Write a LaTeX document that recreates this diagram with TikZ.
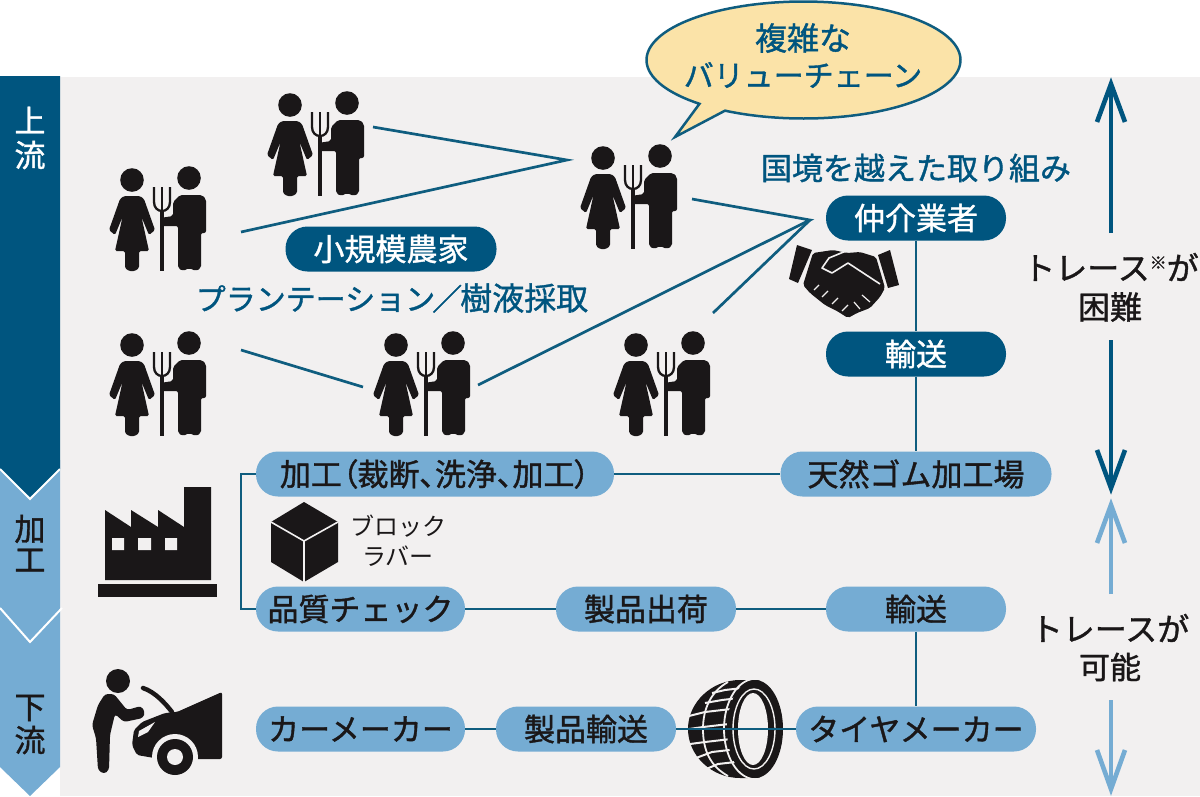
\documentclass[tikz,border=0pt]{standalone}
\usepackage{fontspec}
\setmainfont{Noto Sans CJK JP}
\newfontfamily\cjkp[RawFeature=+palt,FakeBold=1.2]{Noto Sans CJK JP}
\newfontfamily\cjkm[FakeBold=1.2]{Noto Sans CJK JP}
\definecolor{deep}{HTML}{00557F}
\definecolor{lite}{HTML}{75ACD3}
\definecolor{paper}{HTML}{F2F0F0}
\definecolor{ink}{HTML}{1A1718}
\definecolor{bubble}{HTML}{FBE3A8}
\definecolor{wire}{HTML}{0F5D7F}
\newcommand{\fs}[1]{\fontsize{#1}{#1}\selectfont}
\tikzset{
  pill/.style={rectangle,rounded corners=22pt,minimum height=45pt,inner sep=0pt,font=\fs{31}\cjkm},
  pilldark/.style={pill,fill=deep,text=white},
  pilllite/.style={pill,fill=lite,text=ink},
  lbl/.style={inner sep=0pt,font=\fs{31}\cjkm},
  wirel/.style={draw=wire,line width=2.7pt},
  upd/.style={draw=deep,line width=4.6pt},
  upl/.style={draw=lite,line width=4.6pt},
  farmer/.pic={
    \fill[ink] (0,0) circle (11.8pt) (57,-2) circle (11.8pt);
    \fill[ink,rounded corners=1.5pt] (-8,16) -- (8,16) -- (12,19) -- (23,50) -- (17,55) -- (9.5,37) -- (17,71) -- (7,71) -- (7,88) -- (3,91) -- (-3,91) -- (-7,88) -- (-7,71) -- (-17,71) -- (-9.5,37) -- (-17,55) -- (-23,50) -- (-12,19) -- cycle;
    \fill[ink,rounded corners=2pt] (48,15) -- (70,15) -- (74,19) -- (74,53) -- (69,53) -- (69,88) -- (64,91) -- (57,88) -- (51,91) -- (46,88) -- (46,46) -- (29,46) -- (28,38) -- (41,36) -- (41,22) -- cycle;
    \draw[ink,line width=2.3pt] (22,7) -- (22,22) .. controls (22,28) and (26,31) .. (30,31) .. controls (34,31) and (38,28) .. (38,22) -- (38,7);
    \draw[ink,line width=2.3pt] (30,7) -- (30,31);
    \draw[ink,line width=4.4pt] (30,31) -- (30,91);
  }
}
\begin{document}
\begin{tikzpicture}[x=1pt,y=-1pt]
\useasboundingbox (0,0) rectangle (1200,796);
\fill[white] (0,0) rectangle (1200,796);
\fill[paper] (60,77) rectangle (1200,796);
% side bands
\fill[lite] (0,460) -- (60,460) -- (60,767) -- (30,796) -- (0,767) -- cycle;
\fill[deep] (0,76) -- (60,76) -- (60,470) -- (30,497) -- (0,470) -- cycle;
\draw[white,line width=2pt] (0,469) -- (30,499) -- (60,469);
\draw[white,line width=2pt] (0,608) -- (30,642) -- (62,608);
\node[inner sep=0pt,text=white,font=\fs{31}\cjkm] (up1) at (30,120) {上};
\node[inner sep=0pt,text=white,font=\fs{31}\cjkm] (up2) at (30,155) {流};
\node[inner sep=0pt,text=ink,font=\fs{31}\cjkm] (ka1) at (30,529) {加};
\node[inner sep=0pt,text=ink,font=\fs{31}\cjkm] (ka2) at (30,560) {工};
\node[inner sep=0pt,text=ink,font=\fs{31}\cjkm] (do1) at (30,708) {下};
\node[inner sep=0pt,text=ink,font=\fs{31}\cjkm] (do2) at (30,740) {流};
% farmers
\pic at (132,180) {farmer};
\pic at (290,105) {farmer};
\pic at (603,158) {farmer};
\pic at (132,345) {farmer};
\pic at (396,345) {farmer};
\pic at (636,345) {farmer};
% connector hubs
\coordinate (f1) at (373,127);
\coordinate (f2) at (241,232);
\coordinate (f3) at (241,350);
\coordinate (f3e) at (363,387);
\coordinate (hub1) at (567,160);
\coordinate (f5) at (692,199);
\coordinate (f4) at (478,385);
\coordinate (f6) at (713,313);
\coordinate (hub2) at (810,220);
\draw[wirel] (f1) -- (hub1) -- (f2);
\draw[wirel] (f3) -- (f3e);
\draw[wirel] (f5) -- (hub2) -- (f4);
\draw[wirel] (hub2) -- (f6);
% bubble
\filldraw[draw=wire,fill=bubble,line width=2.5pt,line join=miter]
  plot[domain=120:-228.5,samples=140] ({803.5+157*cos(\x)},{60+58.5*sin(\x)}) -- (675,137) -- cycle;
\node[lbl,text=deep,font=\fs{32}\cjkm] (bub1) at (803,38) {複雑な};
\node[lbl,text=deep,font=\fs{30}\cjkm] (bub2) at (803,75) {バリューチェーン};
% handshake
\fill[ink] (797,245) -- (812,250) -- (798,283) -- (789,279) -- cycle;
\fill[ink] (890,250) -- (899,285) -- (888,288) -- (878,255) -- cycle;
\fill[ink,rounded corners=2pt] (813,253) -- (833,250) -- (847,253) -- (860,252) -- (876,257) -- (885,288) -- (880,297) -- (870,308) -- (857,313) -- (848,318) -- (837,311) -- (825,305) -- (810,293) -- (803,285) -- cycle;
\draw[paper,line width=1.6pt,line join=round] (880,284) -- (848,263) -- (832,273) -- (822,268) -- (829,258) -- (846,251);
\draw[paper,line width=1.2pt] (814,290) -- (819,285) (822,297) -- (828,291) (832,304) -- (838,298) (842,311) -- (848,305) (860,309) -- (854,302) (870,302) -- (862,295);
% factory
\fill[ink] (98,584) rectangle (217,597);
\fill[ink] (105,580) -- (105,510) -- (131,527) -- (131,510) -- (158,527) -- (158,510) -- (184,527) -- (184,487) -- (211,487) -- (211,580) -- cycle;
\fill[paper] (112,538) rectangle (124,550) (138,538) rectangle (151,550) (165,538) rectangle (177,550);
% cube
\fill[ink] (304,502) -- (338,522) -- (338,562) -- (304,582) -- (271,562) -- (271,522) -- cycle;
\draw[paper,line width=1.6pt] (271,522) -- (304,541) -- (338,522) (304,541) -- (304,582);
\node[inner sep=0pt,text=ink,font=\fs{24}] (blk1) at (398,526) {ブロック};
\node[inner sep=0pt,text=ink,font=\fs{24}] (blk2) at (398,556) {ラバー};
% mechanic and car
\fill[ink] (118,681) circle (12pt);
\fill[ink,rounded corners=2pt] (222,692) -- (222,759) -- (190,759) -- (160,759) -- (137,755) -- (132,745) -- (134,730) -- (142,722) -- (165,713) -- (177,712) -- cycle;
\draw[ink,line width=4.5pt,line cap=round] (143,688) .. controls (155,692) and (165,703) .. (172,712);
\fill[paper] (175,757) circle (23pt);
\fill[ink] (175,757) circle (18pt);
\fill[paper] (175,757) circle (8pt);
\fill[paper] (139,731) -- (155,722) -- (148,732) -- (138,737) -- cycle;
\fill[ink,rounded corners=3pt] (105,694) -- (114,694) -- (127,710) -- (141,706) -- (145,712) -- (143,718) -- (124,722) -- (115,714) -- (110,735) -- (109,770) -- (104,774) -- (98,770) -- (96,738) -- (92,725) -- (98,705) -- cycle;
% tyre
\fill[ink] (740,680) .. controls (712,680) and (688,702) .. (688,729) .. controls (688,756) and (712,778) .. (740,778) -- (760,778) -- (760,680) -- cycle;
\draw[paper,line width=1.8pt] (728,682) .. controls (710,692) and (703,710) .. (703,729) .. controls (703,750) and (710,766) .. (728,776);
\foreach \a/\b/\c/\d in {689/716/705/712,689/729/703/727,690/744/705/742,696/758/712/752,704/770/718/764,712/693/725/690,705/703/722/700}
  \draw[paper,line width=2pt] (\a,\b) -- (\c,\d) -- +(26,-3);
\draw[paper,line width=1.8pt] (755,729) ellipse [x radius=31pt,y radius=50pt];
\fill[ink] (755,729) ellipse [x radius=28pt,y radius=49pt];
\draw[paper,line width=1.4pt] (754,729) ellipse [x radius=21pt,y radius=40pt];
\fill[paper] (753,729) ellipse [x radius=15pt,y radius=36pt];
% flow pills
\node[pilldark,minimum width=211pt] (small) at (391,249) {小規模農家};
\node[lbl,text=deep,font=\fs{30}\cjkm] (plant) at (392,298) {プランテーション\hspace{-3pt}／\hspace{-2pt}\fs{32}樹液採取};
\node[lbl,text=deep] (border) at (916,168) {国境を越えた取り組み};
\node[pilldark,minimum width=180pt] (broker) at (916,218) {仲介業者};
\node[pilldark,minimum width=180pt] (trans1) at (916,354) {輸送};
\node[pilllite,minimum width=358pt,font=\fs{31}\cjkp] (proc) at (435,474) {加工（裁断、洗浄、加工）};
\node[pilllite,minimum width=271pt] (plantr) at (916,474) {天然ゴム加工場};
\node[pilllite,minimum width=209pt] (qc) at (360.5,609) {品質チェック};
\node[pilllite,minimum width=180pt] (ship) at (646,609) {製品出荷};
\node[pilllite,minimum width=180pt] (trans2) at (916,609) {輸送};
\node[pilllite,minimum width=209pt] (car) at (360.5,729) {カーメーカー};
\node[pilllite,minimum width=180pt] (pt) at (586,729) {製品輸送};
\node[pilllite,minimum width=240pt] (tyre) at (916,729) {タイヤメーカー};
\draw[wirel] (broker) -- (trans1);
\draw[wirel] (trans1) -- (plantr);
\draw[wirel] (proc) -- (plantr);
\draw[wirel] (proc.west) -- (241,474) -- (241,609) -- (qc.west);
\draw[wirel] (qc) -- (ship);
\draw[wirel] (ship) -- (trans2);
\draw[wirel] (trans2) -- (tyre);
\draw[wirel] (car) -- (pt);
\draw[wirel] (pt) -- (tyre);
% trace arrows
\coordinate (a1s) at (1111,233); \coordinate (a1e) at (1111,84);
\draw[upd] (a1s) -- (a1e);
\draw[upd,line join=miter] (1097,122) -- (1111,84) -- (1125,122);
\coordinate (a2s) at (1111,340); \coordinate (a2e) at (1111,488);
\draw[upd] (a2s) -- (a2e);
\draw[upd] (1097,450) -- (1111,488) -- (1125,450);
\coordinate (a3s) at (1111,594); \coordinate (a3e) at (1111,505);
\draw[upl] (a3s) -- (a3e);
\draw[upl] (1097,543) -- (1111,505) -- (1125,543);
\coordinate (a4s) at (1111,700); \coordinate (a4e) at (1111,789);
\draw[upl] (a4s) -- (a4e);
\draw[upl] (1097,750) -- (1111,789) -- (1125,750);
\node[lbl,text=ink,font=\fs{32}\cjkm] (tr1) at (1111,267) {トレース\raisebox{11pt}{\fs{17}\cjkp ※}が};
\node[lbl,text=ink,font=\fs{32}\cjkm] (tr2) at (1110,307) {困難};
\node[lbl,text=ink,font=\fs{32}\cjkm] (tr3) at (1110,628) {トレースが};
\node[lbl,text=ink,font=\fs{31}\cjkm] (tr4) at (1110,667) {可能};
\end{tikzpicture}
\end{document}
